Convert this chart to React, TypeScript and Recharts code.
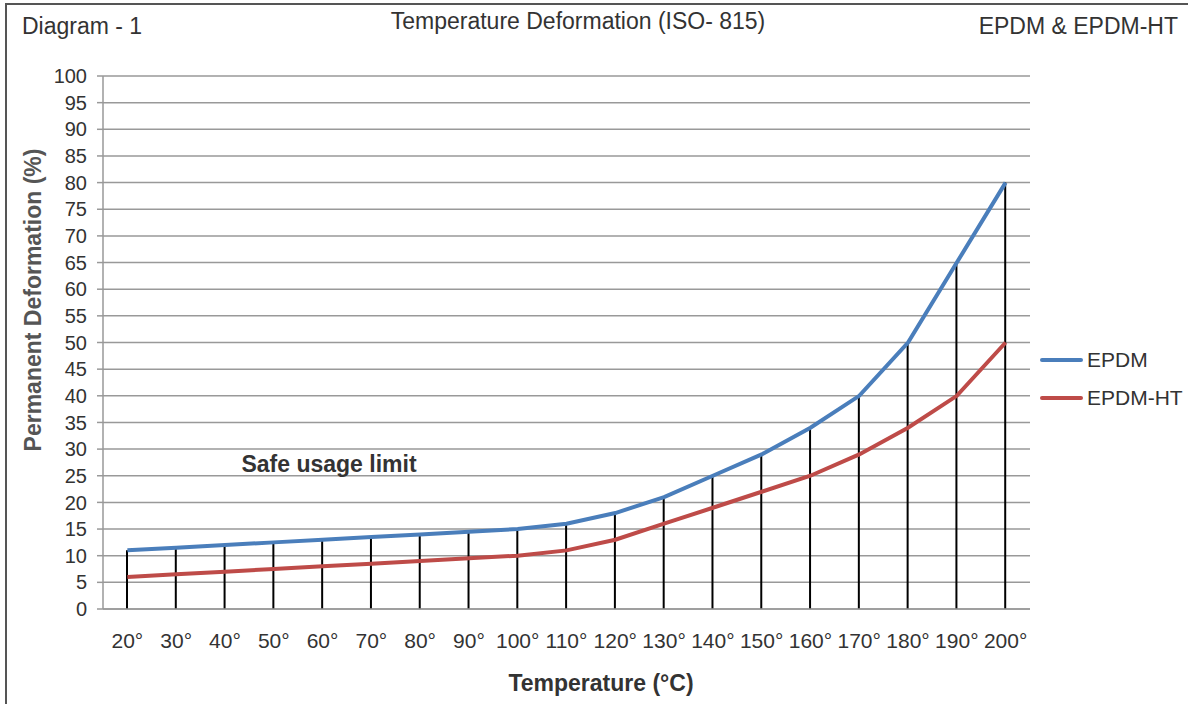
import { ComposedChart, Line, Bar, XAxis, YAxis, CartesianGrid } from 'recharts';

const temps = ['20°', '30°', '40°', '50°', '60°', '70°', '80°', '90°', '100°', '110°', '120°', '130°', '140°', '150°', '160°', '170°', '180°', '190°', '200°'];
const epdm = [11, 11.5, 12, 12.5, 13, 13.5, 14, 14.5, 15, 16, 18, 21, 25, 29, 34, 40, 50, 65, 80];
const epdmHt = [6, 6.5, 7, 7.5, 8, 8.5, 9, 9.5, 10, 11, 13, 16, 19, 22, 25, 29, 34, 40, 50];
const yTicks = [0, 5, 10, 15, 20, 25, 30, 35, 40, 45, 50, 55, 60, 65, 70, 75, 80, 85, 90, 95, 100];

const series = [
  { key: 'epdm', name: 'EPDM', color: '#4a7ebb' },
  { key: 'ht', name: 'EPDM-HT', color: '#be4b48' },
];

const data = temps.map((t, i) => ({ t, epdm: epdm[i], ht: epdmHt[i] }));

const font = '"Liberation Sans", Arial, sans-serif';
const grey = '#999';

// legend sits to the right of the plot, like the Excel original
function LegendBox() {
  return (
    <div style={{ position: 'absolute', left: 1040, top: 341, fontSize: 21, color: '#333' }}>
      {series.map((s) => (
        <div key={s.key} style={{ display: 'flex', alignItems: 'center', height: 38 }}>
          <div style={{ width: 43, height: 4, borderRadius: 2, background: s.color, marginRight: 4 }} />
          <span>{s.name}</span>
        </div>
      ))}
    </div>
  );
}

export default function App() {
  return (
    <div style={{ position: 'absolute', left: 0, top: 0, width: 1188, height: 704, overflow: 'hidden', background: '#fff', fontFamily: font }}>
      <div style={{ position: 'absolute', left: 5, top: 3, width: 1300, height: 800, border: '2px solid #555' }} />
      <div style={{ position: 'absolute', left: 0, top: 0 }}>
        <ComposedChart width={1188} height={704} data={data} margin={{ top: 76, right: 158, left: 0, bottom: 0 }}>
          <CartesianGrid vertical={false} stroke={grey} strokeWidth={1.5} />
          <XAxis
            dataKey="t"
            height={95}
            tickLine={false}
            axisLine={{ stroke: grey, strokeWidth: 1.5 }}
            tickMargin={18}
            tick={{ fill: '#333', fontSize: 21, fontFamily: font }}
            interval={0}
          />
          <YAxis
            width={103}
            domain={[0, 100]}
            ticks={yTicks}
            interval={0}
            tickSize={6}
            tickMargin={10}
            tickLine={{ stroke: grey, strokeWidth: 1.5 }}
            axisLine={{ stroke: grey, strokeWidth: 1.5 }}
            tick={{ fill: '#333', fontSize: 20, fontFamily: font }}
          />
          <Line type="linear" dataKey="ht" name="EPDM-HT" stroke="#be4b48" strokeWidth={4} dot={false} isAnimationActive={false} />
          <Line type="linear" dataKey="epdm" name="EPDM" stroke="#4a7ebb" strokeWidth={4} dot={false} isAnimationActive={false} />
          <Bar dataKey="epdm" barSize={2} fill="#000" isAnimationActive={false} legendType="none" />
          <text x={33} y={300} transform="rotate(-90 33 300)" textAnchor="middle" dominantBaseline="central" fontSize={23} fontWeight="bold" fill="#555" fontFamily={font}>
            Permanent Deformation (%)
          </text>
          <text x={601} y={683} textAnchor="middle" dominantBaseline="central" fontSize={23} fontWeight="bold" fill="#333" fontFamily={font}>
            Temperature (°C)
          </text>
          <text x={329} y={464} textAnchor="middle" dominantBaseline="central" fontSize={23} fontWeight="bold" fill="#333" fontFamily={font}>
            Safe usage limit
          </text>
        </ComposedChart>
      </div>
      <div style={{ position: 'absolute', left: 22, top: 13, fontSize: 23, color: '#333' }}>Diagram - 1</div>
      <div style={{ position: 'absolute', left: 0, width: 1156, top: 8, textAlign: 'center', fontSize: 23, color: '#333' }}>
        Temperature Deformation (ISO- 815)
      </div>
      <div style={{ position: 'absolute', right: 10, top: 13, fontSize: 23, color: '#333' }}>EPDM &amp; EPDM-HT</div>
      <LegendBox />
    </div>
  );
}
